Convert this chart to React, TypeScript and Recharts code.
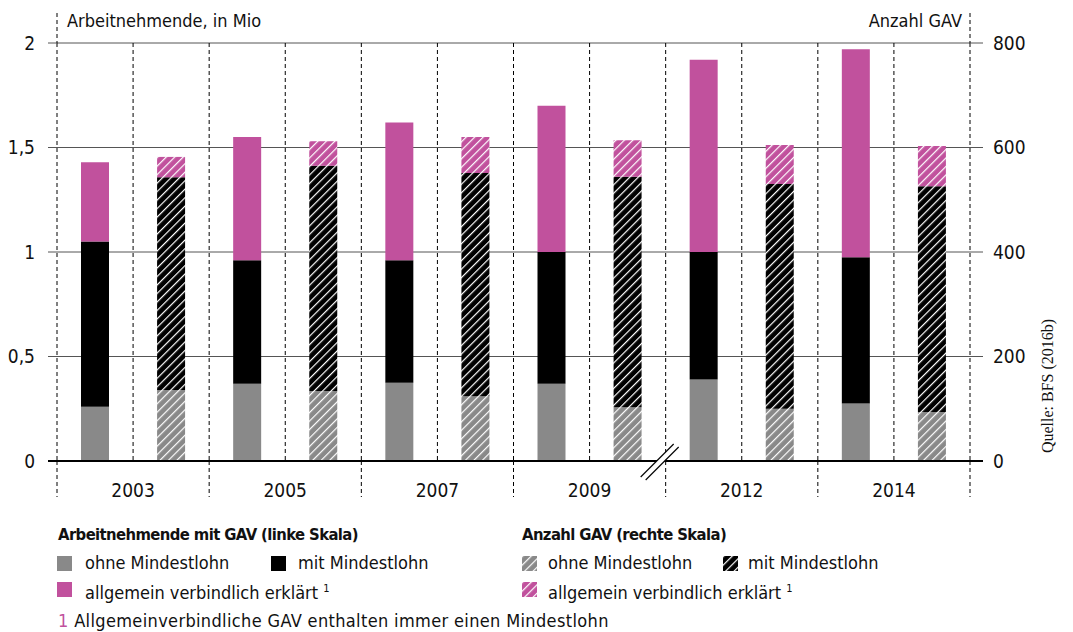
import React from "react";
import { BarChart, Bar, XAxis, YAxis, CartesianGrid, ReferenceLine } from "recharts";

const years = ["2003", "2005", "2007", "2009", "2012", "2014"];

// Arbeitnehmende mit GAV, in Mio (Segmente, linke Skala)
const anOhne = [0.26, 0.37, 0.375, 0.37, 0.39, 0.275];
const anMit = [0.79, 0.59, 0.585, 0.63, 0.61, 0.7];
const anAve = [0.38, 0.59, 0.66, 0.7, 0.92, 0.995];

// Anzahl GAV (Segmente, rechte Skala)
const gavOhne = [136, 134, 124, 103, 100, 94];
const gavMit = [407, 431, 427, 441, 430, 432];
const gavAve = [39, 47, 69, 70, 75, 77];

const leftTicks = [0, 0.5, 1, 1.5, 2];
const rightTicks = [0, 200, 400, 600, 800];

const GREY = "#898989";
const PINK = "#c1519d";
const FONT = "'DejaVu Sans Condensed', 'Liberation Sans Narrow', Roboto, sans-serif";

// two bars per year: workers (solid) and number of GAV (hatched)
const data = years.flatMap((y, i) => [
  { key: y + "-an", year: y, anOhne: anOhne[i], anMit: anMit[i], anAve: anAve[i] },
  { key: y + "-gav", year: y, gavOhne: gavOhne[i], gavMit: gavMit[i], gavAve: gavAve[i] },
]);

const fmt = (v: number) => String(v).replace(".", ",");

function LeftTick(props: any) {
  const { x, y, payload } = props;
  const v = payload.value;
  const edge = x + 22;
  return (
    <g>
      <line x1={edge - 9} x2={edge} y1={y} y2={y} stroke={v === 0 ? "#000" : "#555"} strokeWidth={v === 0 ? 2 : 1} />
      <text x={x} y={y} dy="0.36em" textAnchor="end" fontSize={19} fill="#111" fontFamily={FONT}>
        {fmt(v)}
      </text>
      {v === 2 && (
        <>
          <line x1={edge} x2={edge} y1={y - 30} y2={y} stroke="#000" strokeDasharray="4 3" />
          <text x={edge + 10} y={y - 16} fontSize={18} fill="#111" fontFamily={FONT}>
            Arbeitnehmende, in Mio
          </text>
        </>
      )}
    </g>
  );
}

function RightTick(props: any) {
  const { x, y, payload } = props;
  const v = payload.value;
  const edge = x - 23;
  return (
    <g>
      <line x1={edge} x2={edge + 13} y1={y} y2={y} stroke={v === 0 ? "#000" : "#555"} strokeWidth={v === 0 ? 2 : 1} />
      <text x={x} y={y} dy="0.36em" textAnchor="start" fontSize={19} fill="#111" fontFamily={FONT}>
        {v}
      </text>
      {v === 800 && (
        <>
          <line x1={edge} x2={edge} y1={y - 30} y2={y} stroke="#000" strokeDasharray="4 3" />
          <text x={edge - 8} y={y - 16} textAnchor="end" fontSize={18} fill="#111" fontFamily={FONT}>
            Anzahl GAV
          </text>
        </>
      )}
    </g>
  );
}

function YearTick(props: any) {
  const { x, y, payload, index, visibleTicksCount, width } = props;
  const half = payload.offset ?? width / visibleTicksCount / 2;
  const left = x - half;
  const right = x + half;
  return (
    <g>
      <line x1={left} x2={left} y1={y} y2={y + 36} stroke="#000" strokeDasharray="4 3" />
      {index === visibleTicksCount - 1 && (
        <line x1={right} x2={right} y1={y} y2={y + 36} stroke="#000" strokeDasharray="4 3" />
      )}
      {payload.value === "2012" && (
        <g>
          <polygon points={`${left - 25},${y + 16} ${left + 8},${y - 17} ${left + 13},${y - 14} ${left - 20},${y + 19}`} fill="#fff" />
          <line x1={left - 25} y1={y + 16} x2={left + 8} y2={y - 17} stroke="#000" strokeWidth={1.2} />
          <line x1={left - 20} y1={y + 19} x2={left + 13} y2={y - 14} stroke="#000" strokeWidth={1.2} />
        </g>
      )}
      <text x={x} y={y + 36} textAnchor="middle" fontSize={19} fill="#111" fontFamily={FONT}>
        {payload.value}
      </text>
    </g>
  );
}

function Patterns() {
  const hatch = (id: string, color: string) => (
    <pattern id={id} patternUnits="userSpaceOnUse" width={6} height={6} patternTransform="rotate(45)">
      <rect width={6} height={6} fill={color} />
      <line x1={0} y1={0} x2={0} y2={6} stroke="#fff" strokeWidth={2.4} />
    </pattern>
  );
  return (
    <svg width={0} height={0} style={{ position: "absolute" }}>
      <defs>
        {hatch("hGrey", GREY)}
        {hatch("hBlack", "#000")}
        {hatch("hPink", PINK)}
      </defs>
    </svg>
  );
}

function Swatch({ fill, left, top }: { fill: string; left: number; top: number }) {
  return (
    <svg width={15} height={15} style={{ position: "absolute", left, top }}>
      <rect width={15} height={15} fill={fill} />
    </svg>
  );
}

const textStyle: React.CSSProperties = {
  position: "absolute",
  fontFamily: FONT,
  fontSize: 18,
  lineHeight: "20px",
  color: "#111",
  whiteSpace: "nowrap",
};

const headStyle: React.CSSProperties = {
  ...textStyle,
  fontSize: 16.5,
  fontWeight: "bold",
  letterSpacing: "-0.6px",
};

function Legend() {
  const sup = <sup style={{ fontSize: 11, verticalAlign: "7px" }}>1</sup>;
  return (
    <>
      <div style={{ ...headStyle, left: 58, top: 525 }}>Arbeitnehmende mit GAV (linke Skala)</div>
      <Swatch fill={GREY} left={57} top={556} />
      <div style={{ ...textStyle, left: 85, top: 553 }}>ohne Mindestlohn</div>
      <Swatch fill="#000" left={271} top={556} />
      <div style={{ ...textStyle, left: 298, top: 553 }}>mit Mindestlohn</div>
      <Swatch fill={PINK} left={57} top={582} />
      <div style={{ ...textStyle, left: 85, top: 579 }}>allgemein verbindlich erklärt {sup}</div>

      <div style={{ ...headStyle, left: 522, top: 525 }}>Anzahl GAV (rechte Skala)</div>
      <Swatch fill="url(#hGrey)" left={522} top={556} />
      <div style={{ ...textStyle, left: 548, top: 553 }}>ohne Mindestlohn</div>
      <Swatch fill="url(#hBlack)" left={723} top={556} />
      <div style={{ ...textStyle, left: 748, top: 553 }}>mit Mindestlohn</div>
      <Swatch fill="url(#hPink)" left={522} top={582} />
      <div style={{ ...textStyle, left: 548, top: 579 }}>allgemein verbindlich erklärt {sup}</div>

      <div style={{ ...textStyle, left: 58, top: 611, letterSpacing: "0.35px" }}>
        <span style={{ color: PINK }}>1</span> Allgemeinverbindliche GAV enthalten immer einen Mindestlohn
      </div>
    </>
  );
}

export default function App() {
  return (
    <div style={{ position: "absolute", left: 0, top: 0, width: 1073, height: 632, background: "#fff", overflow: "hidden" }}>
      <Patterns />
      <BarChart width={1073} height={510} data={data} margin={{ top: 43, right: 43, bottom: 9, left: 0 }} barSize={28}>
        <CartesianGrid xAxisId="cat" yAxisId="left" vertical={false} stroke="#555" />
        <CartesianGrid
          xAxisId="cat"
          yAxisId="left"
          horizontal={false}
          stroke="#000"
          strokeDasharray="4 3"
          verticalCoordinatesGenerator={({ offset, width }: any) => {
            const w = offset.width ?? width - offset.left - offset.right;
            return data.map((_, i) => offset.left + (i * w) / data.length).concat(offset.left + w);
          }}
        />
        <XAxis
          xAxisId="year"
          dataKey="year"
          allowDuplicatedCategory={false}
          axisLine={false}
          tickLine={false}
          tickSize={0}
          tickMargin={0}
          height={40}
          interval={0}
          tick={<YearTick />}
        />
        <XAxis xAxisId="cat" dataKey="key" hide height={0} />
        <YAxis
          yAxisId="left"
          width={57}
          domain={[0, 2]}
          ticks={leftTicks}
          axisLine={false}
          tickLine={false}
          tickSize={9}
          tickMargin={13}
          tick={<LeftTick />}
        />
        <YAxis
          yAxisId="right"
          orientation="right"
          width={60}
          domain={[0, 800]}
          ticks={rightTicks}
          axisLine={false}
          tickLine={false}
          tickSize={13}
          tickMargin={10}
          tick={<RightTick />}
        />
        <Bar xAxisId="cat" yAxisId="left" dataKey="anOhne" stackId="s" fill={GREY} isAnimationActive={false} />
        <Bar xAxisId="cat" yAxisId="left" dataKey="anMit" stackId="s" fill="#000" isAnimationActive={false} />
        <Bar xAxisId="cat" yAxisId="left" dataKey="anAve" stackId="s" fill={PINK} isAnimationActive={false} />
        <Bar xAxisId="cat" yAxisId="right" dataKey="gavOhne" stackId="s" fill="url(#hGrey)" isAnimationActive={false} />
        <Bar xAxisId="cat" yAxisId="right" dataKey="gavMit" stackId="s" fill="url(#hBlack)" isAnimationActive={false} />
        <Bar xAxisId="cat" yAxisId="right" dataKey="gavAve" stackId="s" fill="url(#hPink)" isAnimationActive={false} />
        <ReferenceLine xAxisId="cat" yAxisId="left" y={0} stroke="#000" strokeWidth={2} />
      </BarChart>
      <Legend />
      <div
        style={{
          position: "absolute",
          left: 1048,
          top: 386,
          transform: "translate(-50%, -50%) rotate(-90deg)",
          fontFamily: "'Liberation Serif', serif",
          fontSize: 16,
          whiteSpace: "nowrap",
          color: "#111",
        }}
      >
        Quelle: BFS (2016b)
      </div>
    </div>
  );
}
